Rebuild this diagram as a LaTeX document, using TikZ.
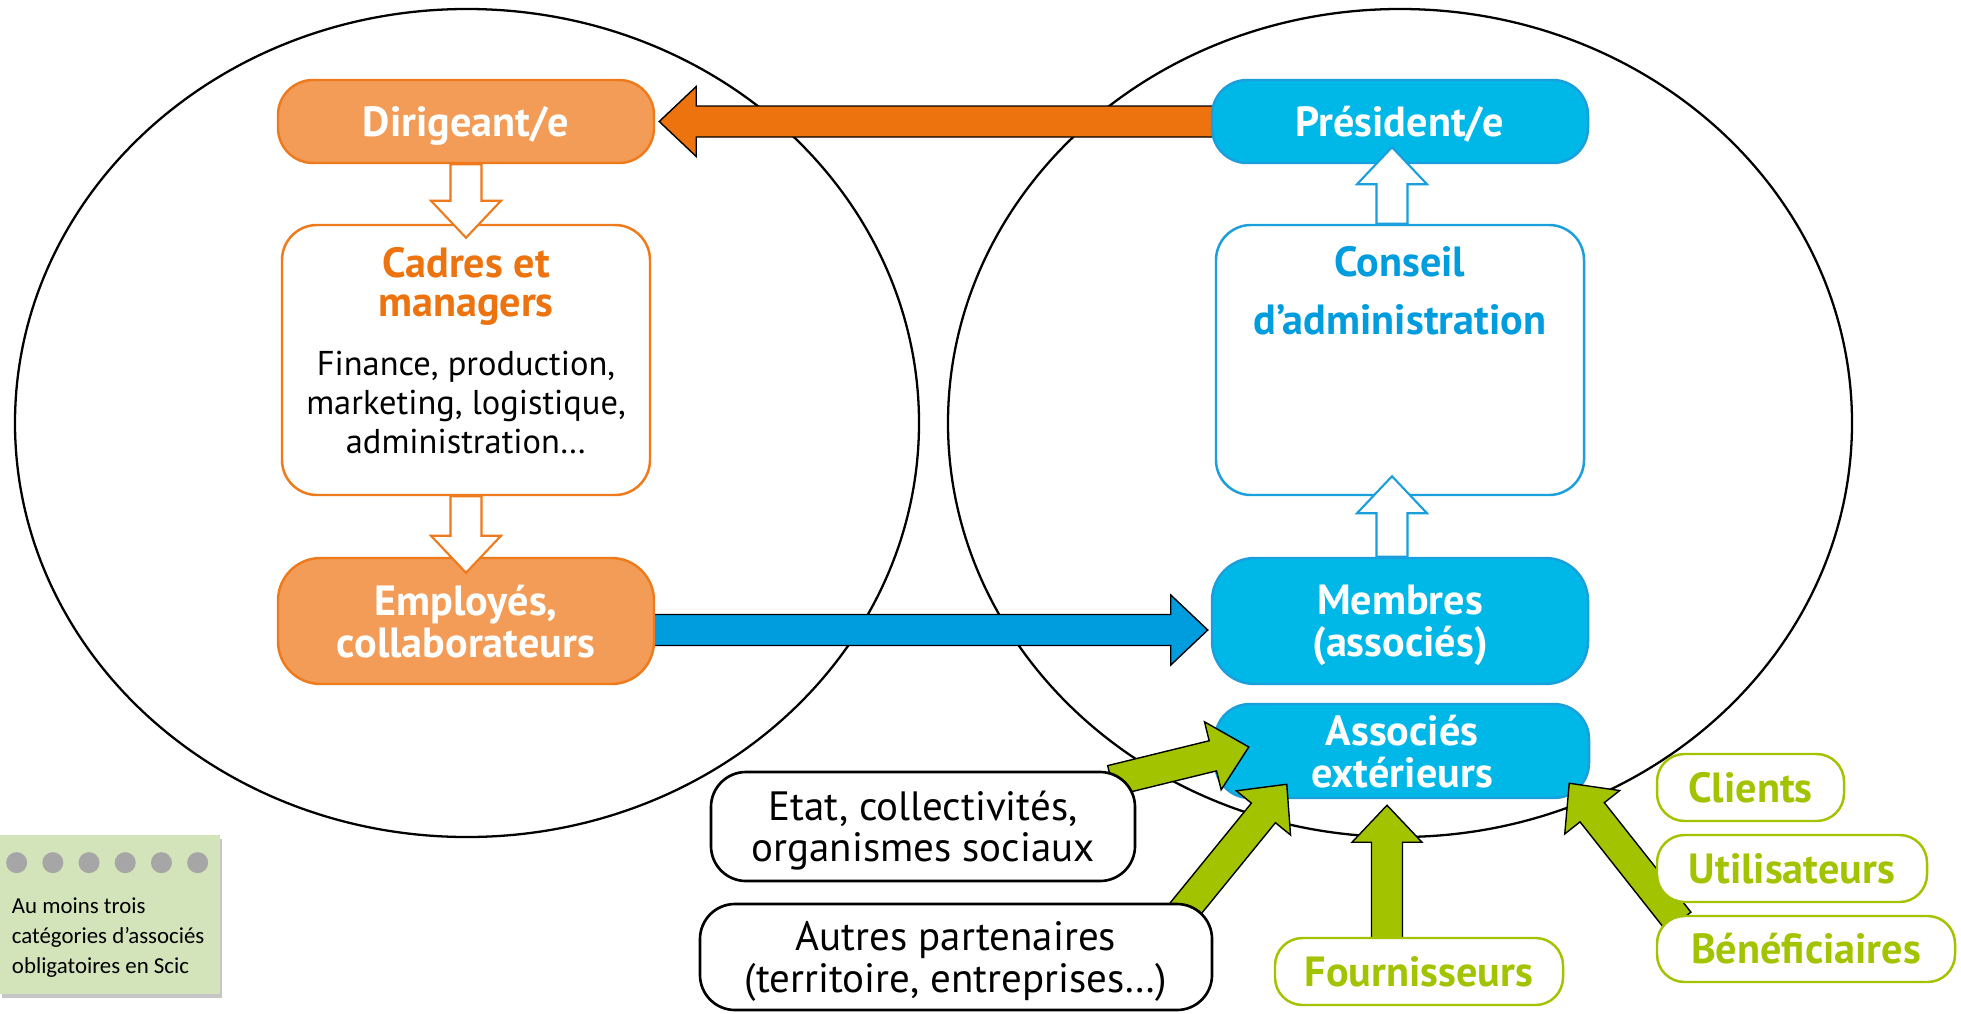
\documentclass[tikz,border=0pt]{standalone}
\usepackage{fontspec}
\setmainfont{PT Sans}
\newfontfamily\notefont{Carlito}
\usetikzlibrary{calc,shadows}

\definecolor{orfill}{HTML}{F39C58}
\definecolor{orline}{HTML}{EE7A1C}
\definecolor{orarrow}{HTML}{EC730E}
\definecolor{blfill}{HTML}{00B8E8}
\definecolor{blline}{HTML}{1A9FDC}
\definecolor{blarrow}{HTML}{009DDE}
\definecolor{grn}{HTML}{A2C400}
\definecolor{notefill}{HTML}{D3E3BA}
\definecolor{dotgray}{HTML}{A6A6A6}

\newcommand\titlefont{\fontsize{24}{24}\selectfont\bfseries}
\newcommand\bodyfont{\fontsize{23.3}{23.6}\selectfont}
\newcommand\listfont{\fontsize{19.6}{22.2}\selectfont}

\pgfdeclarelayer{bg}
\pgfdeclarelayer{arr}
\pgfsetlayers{bg,arr,main}

% block arrow from #2 to #3, drawn with style #1
\newcommand{\blockarrow}[3]{%
  \path ($(#3)!7.4mm!(#2)$) coordinate (hb);
  \draw[#1] ($(#2)!3.1mm!90:(#3)$) -- ($(hb)!3.1mm!-90:(#2)$) -- ($(hb)!7mm!-90:(#2)$)
    -- (#3) -- ($(hb)!7mm!90:(#2)$) -- ($(hb)!3.1mm!90:(#2)$) -- ($(#2)!3.1mm!-90:(#3)$) -- cycle;
}

\tikzset{
  orbox/.style={draw=orline, fill=orfill, line width=1.4pt, rounded corners=7mm,
    text=white, font=\titlefont, align=center, text depth=0pt},
  blbox/.style={orbox, draw=blline, fill=blfill},
  orframe/.style={draw=orline, fill=white, line width=1.4pt, rounded corners=7mm, align=center},
  blframe/.style={orframe, draw=blline},
  blackbox/.style={draw, fill=white, line width=1.5pt, rounded corners=7mm, align=center,
    font=\bodyfont, text depth=0pt},
  grnbox/.style={draw=grn, fill=white, line width=1.4pt, rounded corners=5.5mm,
    text=grn, font=\titlefont, minimum height=13.4mm},
  notebox/.style={fill=notefill, minimum width=44mm, minimum height=31.8mm,
    drop shadow={shadow xshift=0.4mm, shadow yshift=-0.8mm, opacity=0.45}},
  ringline/.style={line width=1.3pt},
  bigarrow/.style={draw, line width=0.8pt, fill=#1},
  openarrow/.style={draw=#1, line width=1.2pt, fill=white},
}

\begin{document}
\begin{tikzpicture}[x=0.2mm, y=-0.2mm]
  \useasboundingbox (0,0) rectangle (1961,1013);

  % left column: the company
  \node[orbox, minimum width=75.2mm, minimum height=16.6mm] (dir) at (466,121.5) {Dirigeant/e};
  \node[orframe, font=\listfont, text depth=3.8mm, minimum width=73.6mm, minimum height=54mm] (cadres) at (466,360)
    {\titlefont\color{orarrow}Cadres et\\ \titlefont\color{orarrow}managers\\[11pt]
     Finance, production,\\ marketing, logistique,\\ administration…};
  \node[orbox, minimum width=75.2mm, minimum height=25.2mm, rounded corners=8.5mm] (emp) at (466,621)
    {Employés,\\collaborateurs};

  % right column: the cooperative
  \node[blbox, minimum width=75.2mm, minimum height=16.6mm] (pres) at (1400,121.5) {Président/e};
  \node[blframe, minimum width=73.6mm, minimum height=54mm,
    label={[anchor=north, yshift=-3.2mm, align=center, text=blarrow, font=\titlefont]north:{Conseil\\[9pt]d’administration}}]
    (cons) at (1400,360) {};
  \node[blbox, minimum width=75.2mm, minimum height=25.2mm, rounded corners=8.5mm] (memb) at (1400,621)
    {Membres\\(associés)};

  % outside partners
  \node[blackbox, minimum width=84.8mm, minimum height=21.8mm] (etat) at (923,826.5)
    {Etat, collectivités,\\organismes sociaux};
  \node[blackbox, minimum width=102.4mm, minimum height=21.2mm] (autres) at (956,957)
    {Autres partenaires\\(territoire, entreprises…)};
  \node[grnbox, minimum width=57.6mm] (fourn) at (1419,971.5) {Fournisseurs};
  \node[grnbox, minimum width=37.4mm] (clients) at (1750.5,787.5) {Clients};
  \node[grnbox, minimum width=54mm] (util) at (1792,868.5) {Utilisateurs};
  \node[grnbox, minimum width=59.6mm, minimum height=13.2mm] (benef) at (1806,949) {Bénéficiaires};

  % note
  \node[notebox] (note) at (110,914.5) {};
  \foreach \i in {0,...,5}
    \fill[dotgray] ($(note.north west)+(17+36.2*\i,28)$) circle (2.1mm);
  \node[anchor=north west, inner sep=0pt, align=left, font=\notefont\fontsize{13}{17}\selectfont]
    (notetxt) at ($(note.north west)+(12,63)$)
    {Au moins trois\\catégories d’associés\\obligatoires en Scic};

  \begin{pgfonlayer}{bg}
    \draw[ringline] (467,423) ellipse [x radius=90.4mm, y radius=82.8mm];
    \draw[ringline] (1400,423) ellipse [x radius=90.4mm, y radius=82.8mm];
    \coordinate (oa1) at ($(pres.west)+(20,0)$);
    \coordinate (oa2) at ($(dir.east)+(4,0)$);
    \blockarrow{bigarrow=orarrow}{oa1}{oa2}
    \coordinate (ba1) at ($(emp.east)+(-20,9)$);
    \coordinate (ba2) at ($(memb.west)+(-3,9)$);
    \blockarrow{bigarrow=blarrow}{ba1}{ba2}
    \node[blbox, minimum width=74.8mm, minimum height=18.8mm] (asso) at (1402,751) {Associés\\extérieurs};
  \end{pgfonlayer}

  % green arrows towards the outside partners box
  \begin{pgfonlayer}{arr}
    \coordinate (g1) at ($(etat.north east)+(-25,10)$);
    \coordinate (g1t) at ($(asso.west)+(35,-4)$);
    \blockarrow{bigarrow=grn}{g1}{g1t}
    \coordinate (g2) at ($(autres.north east)+(-32,11)$);
    \coordinate (g2t) at ($(asso.south west)+(73,-15)$);
    \blockarrow{bigarrow=grn}{g2}{g2t}
    \coordinate (g3) at ($(fourn.north)+(-32,7)$);
    \coordinate (g3t) at ($(asso.south)+(-15,6)$);
    \blockarrow{bigarrow=grn}{g3}{g3t}
    \coordinate (g4) at ($(benef.north west)+(23,7)$);
    \coordinate (g4t) at ($(asso.south east)+(-21,-16)$);
    \blockarrow{bigarrow=grn}{g4}{g4t}
  \end{pgfonlayer}

  % hollow arrows inside the circles
  \coordinate (h1t) at ($(cadres.north)+(0,14)$);
  \blockarrow{openarrow=orline}{dir.south}{h1t}
  \coordinate (h2t) at ($(emp.north)+(0,16)$);
  \blockarrow{openarrow=orline}{cadres.south}{h2t}
  \coordinate (h3) at ($(cons.north)+(-8,0)$);
  \coordinate (h3t) at ($(pres.south)+(-8,-17)$);
  \blockarrow{openarrow=blline}{h3}{h3t}
  \coordinate (h4) at ($(memb.north)+(-8,0)$);
  \coordinate (h4t) at ($(cons.south)+(-8,-20)$);
  \blockarrow{openarrow=blline}{h4}{h4t}
\end{tikzpicture}
\end{document}
